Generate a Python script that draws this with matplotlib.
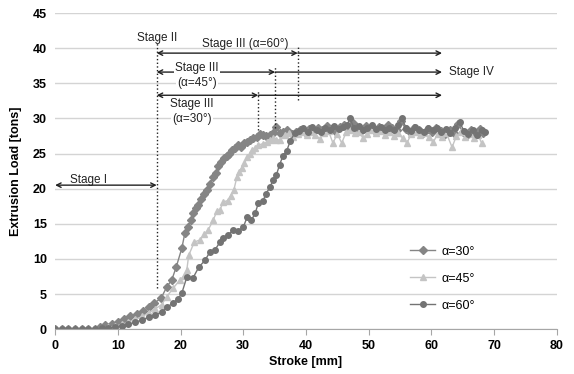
import matplotlib
matplotlib.use("Agg")
import matplotlib.pyplot as plt

plt.rcParams['font.family'] = ['Liberation Sans', 'DejaVu Sans']

# alpha = 30 deg
x30 = [0, 1.1, 2.1, 3.2, 4.3, 5.3, 6.4, 7.2, 8.0, 9.0,
       10.0, 11.0, 12.0, 13.0, 14.0, 15.0, 15.8, 16.9, 17.8, 18.6,
       19.3, 20.2, 20.7, 21.2, 21.6, 22.0, 22.4, 22.8, 23.2, 23.7,
       24.2, 24.7, 25.2, 25.6, 26.0, 26.5, 27.0, 27.4, 27.8, 28.2,
       28.7, 29.2, 29.6, 30.1, 30.6, 31.1, 31.6, 32.2, 32.7, 33.2,
       33.7, 34.3, 34.8, 35.3, 35.8,
       36.3, 37.0, 37.7, 38.4, 39.1, 39.8, 40.5, 41.2, 41.9, 42.6,
       43.3, 44.0, 44.7, 45.4, 46.1, 46.8, 47.5, 48.2, 48.9, 49.6,
       50.3, 51.0, 51.7, 52.4, 53.1, 53.8, 54.5, 55.2, 55.9, 56.6,
       57.3, 58.0, 58.7, 59.4, 60.1, 60.8, 61.5, 62.2, 62.9, 63.6,
       64.3, 65.0, 65.7, 66.4, 67.1, 67.8, 68.3]
y30 = [0, 0, 0, 0, 0, 0, 0, 0.3, 0.6, 0.7,
       1.0, 1.4, 1.8, 2.2, 2.6, 3.1, 3.7, 4.4, 6.0, 7.0,
       8.8, 11.5, 13.7, 14.5, 15.5, 16.5, 17.2, 17.7, 18.5, 19.2,
       19.8, 20.6, 21.6, 22.2, 23.2, 23.8, 24.3, 24.6, 25.0, 25.5,
       25.8, 26.2, 26.0, 26.5, 26.6, 26.9, 27.2, 27.4, 27.8, 27.6,
       27.5, 27.6, 27.9, 28.8, 27.9,
       28.0, 28.3, 27.8, 28.1, 28.4, 28.0, 28.5, 28.2, 28.7, 28.3,
       28.9, 28.5, 28.2, 28.8, 29.0, 28.6, 29.3, 28.7, 28.4, 28.9,
       28.5, 28.2, 28.8, 28.4, 29.0, 28.6, 28.3, 29.6, 28.5, 28.1,
       28.7, 28.3, 27.9, 28.5, 28.0, 28.6, 28.2, 27.8, 28.4, 27.9,
       29.2, 28.1, 27.6, 28.3, 27.8, 28.5, 27.9]

# alpha = 45 deg
x45 = [0, 1.1, 2.1, 3.2, 4.3, 5.3, 6.4, 7.5, 8.5, 9.6,
       10.7, 11.7, 12.8, 13.9, 14.9, 16.0, 17.0, 17.8, 18.8, 19.9,
       20.6, 21.0, 21.3, 22.2, 23.1, 23.8, 24.4, 25.2, 25.8, 26.3,
       26.8, 27.5, 28.0, 28.5, 29.0, 29.3, 29.8, 30.2, 30.6, 31.0,
       31.4, 31.9, 32.4, 33.1, 33.8, 34.3, 34.7, 35.3, 35.9,
       36.6, 37.3, 38.0, 38.7, 39.4, 40.1, 40.8, 41.5, 42.2, 42.9,
       43.6, 44.3, 45.0, 45.7, 46.4, 47.1, 47.8, 48.5, 49.1, 49.8,
       50.5, 51.2, 51.9, 52.6, 53.3, 54.0, 54.7, 55.4, 56.1, 56.8,
       57.5, 58.2, 58.9, 59.6, 60.3, 61.0, 61.7, 62.4, 63.3, 64.0,
       64.7, 65.4, 66.1, 66.8, 67.5, 68.0]
y45 = [0, 0, 0, 0, 0, 0, 0, 0.1, 0.3, 0.4,
       0.7, 1.0, 1.4, 1.8, 2.3, 2.9, 3.5, 4.6, 5.8, 7.0,
       7.6, 8.4, 10.5, 12.4, 12.7, 13.5, 14.1, 15.5, 16.8, 17.0,
       18.1, 18.3, 19.0, 19.8, 21.7, 22.4, 23.0, 23.6, 24.5, 24.9,
       25.5, 25.8, 26.2, 26.4, 26.6, 26.9, 27.2, 27.0, 26.9,
       27.6, 27.9, 27.4, 27.8, 28.0, 27.6, 28.1, 27.7, 27.1, 27.9,
       28.2, 26.5, 27.8, 26.5, 28.0, 28.4, 27.9, 28.1, 27.2, 27.8,
       28.3, 27.9, 28.2, 27.7, 28.0, 27.5, 27.9, 27.2, 26.5, 27.8,
       28.1, 27.6, 27.9, 27.3, 26.6, 27.8, 27.4, 27.9, 25.9, 27.5,
       28.0, 27.4, 27.8, 27.2, 27.6, 26.5]

# alpha = 60 deg
x60 = [0, 1.1, 2.1, 3.2, 4.3, 5.3, 6.4, 7.5, 8.5, 9.6,
       10.7, 11.7, 12.8, 13.9, 14.9, 16.0, 17.0, 17.8, 18.8, 19.6,
       20.2, 21.0, 22.0, 22.9, 23.9, 24.7, 25.5, 26.3, 26.8, 27.6,
       28.4, 29.2, 30.0, 30.6, 31.3, 31.9, 32.4, 33.2, 33.6, 34.3,
       34.7, 35.3, 35.8, 36.3, 36.9, 37.5, 38.2,
       38.9, 39.6, 40.3, 41.0, 41.7, 42.4, 43.1, 43.8, 44.5, 45.2,
       45.9, 46.6, 47.0, 47.7, 48.4, 49.1, 49.8, 50.5, 51.2, 51.9,
       52.6, 53.3, 54.0, 54.7, 55.3, 56.0, 56.7, 57.4, 58.1, 58.8,
       59.5, 60.2, 60.9, 61.6, 62.3, 63.0, 63.7, 64.5, 65.2, 65.9,
       66.6, 67.3, 68.0, 68.5]
y60 = [0, 0, 0, 0, 0, 0, 0, 0.1, 0.2, 0.3,
       0.5, 0.7, 1.0, 1.3, 1.7, 2.0, 2.4, 3.1, 3.7, 4.3,
       5.1, 7.4, 7.3, 8.8, 9.8, 11.0, 11.3, 12.4, 13.0, 13.4,
       14.1, 14.0, 14.5, 15.9, 15.5, 16.5, 17.9, 18.3, 19.3, 20.2,
       21.2, 22.0, 23.4, 24.6, 25.3, 26.8, 27.9,
       28.2, 28.6, 28.1, 28.8, 28.4, 28.0, 28.7, 28.3, 28.9, 28.5,
       28.8, 29.1, 30.0, 28.6, 28.9, 28.4, 28.7, 29.0, 28.5, 28.8,
       28.3, 28.7, 28.4, 29.0, 30.0, 28.6, 28.2, 28.8, 28.4, 28.0,
       28.6, 28.3, 28.7, 28.1, 28.5, 27.9, 28.6, 29.5, 28.2, 27.8,
       28.4, 27.7, 28.3, 28.0]

# stage boundaries [mm]
stage2_x = 16.2
end30, end45, end60 = 32.4, 35.1, 38.7
stage4_x = 61.7

fig, ax = plt.subplots(figsize=(5.74, 3.74), dpi=100)
fig.subplots_adjust(left=0.096, right=0.970, bottom=0.120, top=0.965)

ax.plot(x30, y30, '-D', color='#858585', ms=3.8, lw=1.0, label='\u03b1=30\u00b0')
ax.plot(x45, y45, '-^', color='#c4c4c4', ms=4.8, lw=1.0, label='\u03b1=45\u00b0')
ax.plot(x60, y60, '-o', color='#737373', ms=4.0, lw=1.0, label='\u03b1=60\u00b0')

ax.set_xlim(0, 80)
ax.set_ylim(0, 45)
ax.set_xticks(range(0, 81, 10))
ax.set_yticks(range(0, 46, 5))
ax.yaxis.grid(True, color='#d4d4d4', lw=1.0)
ax.set_axisbelow(True)
for s in ['top', 'right', 'left']:
    ax.spines[s].set_visible(False)
ax.spines['bottom'].set_color('#a6a6a6')
ax.tick_params(axis='y', length=0, labelsize=9, pad=6)
ax.tick_params(axis='x', length=4, color='#a6a6a6', labelsize=9, pad=4)
for lab in ax.get_xticklabels() + ax.get_yticklabels():
    lab.set_fontweight('bold')

ax.set_xlabel('Stroke [mm]', fontsize=9, fontweight='bold', labelpad=3)
ax.set_ylabel('Extrusion Load [tons]', fontsize=9, fontweight='bold', labelpad=8)

akw = dict(color='#222222', lw=1.0, shrinkA=0, shrinkB=0, mutation_scale=8)

def arrow(x0, x1, y, style):
    ax.annotate('', xy=(x1, y), xytext=(x0, y),
                arrowprops=dict(arrowstyle=style, **akw))

def vline(x, y0, y1):
    ax.plot([x, x], [y0, y1], ls=':', color='#222222', lw=1.0)

# Stage I / II
arrow(0, stage2_x, 20.5, '<->')
vline(stage2_x, 5.8, 41.0)
ax.text(5.3, 21.3, 'Stage I', fontsize=8.5, ha='center', va='center', color='#222222')
ax.text(stage2_x, 41.4, 'Stage II', fontsize=8.5, ha='center', va='center', color='#222222')

# Stage III arrows
arrow(stage2_x, end60, 39.3, '<->')
arrow(end60, stage4_x, 39.3, '->')
vline(end60, 32.6, 40.5)
arrow(stage2_x, end45, 36.6, '<->')
arrow(end45, stage4_x, 36.6, '->')
vline(end45, 28.6, 37.5)
arrow(stage2_x, end30, 33.3, '<->')
arrow(end30, stage4_x, 33.3, '->')
vline(end30, 28.3, 34.0)

wb = dict(facecolor='white', edgecolor='none', pad=1.0)
ax.text(30.3, 39.7, 'Stage III (\u03b1=60\u00b0)', fontsize=8.5, ha='center', va='bottom',
        color='#222222')
ax.text(22.6, 37.2, 'Stage III', fontsize=8.5, ha='center', va='center', color='#222222', bbox=wb)
ax.text(22.6, 35.1, '(\u03b1=45\u00b0)', fontsize=8.5, ha='center', va='center', color='#222222', bbox=wb)
ax.text(21.8, 32.0, 'Stage III', fontsize=8.5, ha='center', va='center', color='#222222', bbox=wb)
ax.text(21.8, 29.9, '(\u03b1=30\u00b0)', fontsize=8.5, ha='center', va='center', color='#222222', bbox=wb)
ax.text(62.8, 36.6, 'Stage IV', fontsize=8.5, ha='left', va='center', color='#222222',
        bbox=dict(facecolor='white', edgecolor='none', pad=2.0))

leg = ax.legend(loc='lower left', bbox_to_anchor=(0.685, 0.02), frameon=False,
                fontsize=9, labelspacing=1.2, handlelength=2.0, handletextpad=0.5)

fig.savefig('out.png', dpi=100)
